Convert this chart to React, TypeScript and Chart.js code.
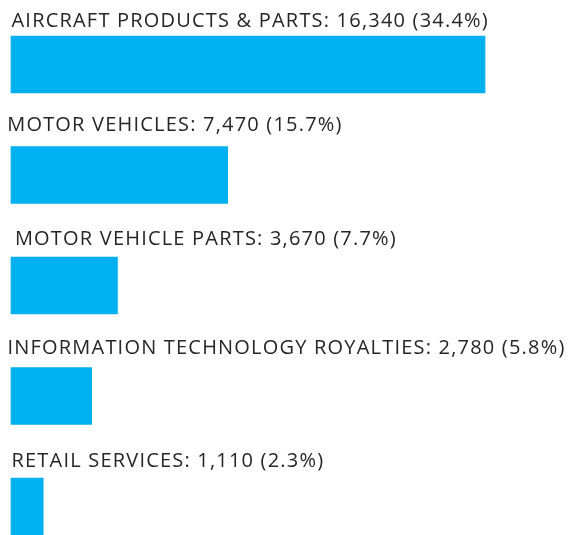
import React, { useEffect, useRef } from "react";
import { Chart, registerables } from "chart.js";

Chart.register(...registerables);

const categories = [
  "AIRCRAFT PRODUCTS & PARTS",
  "MOTOR VEHICLES",
  "MOTOR VEHICLE PARTS",
  "INFORMATION TECHNOLOGY ROYALTIES",
  "RETAIL SERVICES",
];
const values = [16340, 7470, 3670, 2780, 1110];
const shares = ["34.4%", "15.7%", "7.7%", "5.8%", "2.3%"];

// styling: per-label horizontal indent and gap above bar (px)
const labelIndent = [0.5, -3.8, 3.9, -3.5, 0.5];
const labelGap = [8.7, 15.3, 12.3, 14, 11.3];

const fmt = (v: number) => v.toLocaleString("en-US");

const labelPlugin = {
  id: "barLabels",
  afterDatasetsDraw(chart: any) {
    const ctx = chart.ctx;
    const meta = chart.getDatasetMeta(0);
    ctx.save();
    ctx.font = '20px "Open Sans"';
    (ctx as any).letterSpacing = "1.2px";
    ctx.fillStyle = "#262626";
    ctx.textAlign = "left";
    ctx.textBaseline = "alphabetic";
    meta.data.forEach((bar: any, i: number) => {
      const top = bar.y - bar.height / 2;
      const text = `${categories[i]}: ${fmt(values[i])} (${shares[i]})`;
      ctx.fillText(text, bar.base + labelIndent[i], top - labelGap[i]);
    });
    ctx.restore();
  },
};

export default function App() {
  const ref = useRef<HTMLCanvasElement>(null);
  useEffect(() => {
    if (!ref.current) return;
    const chart = new Chart(ref.current, {
      type: "bar",
      data: {
        labels: categories,
        datasets: [
          {
            data: values,
            backgroundColor: "#00B0F0",
            borderWidth: 0,
            barThickness: 57,
            clip: false as any,
          },
        ],
      },
      options: {
        indexAxis: "y",
        animation: false,
        responsive: false,
        maintainAspectRatio: false,
        layout: { padding: { left: 11, right: 84, top: 64.5, bottom: 28.5 } },
        plugins: { legend: { display: false }, tooltip: { enabled: false } },
        scales: {
          x: { display: false, min: 0, max: 16340 },
          y: { display: false, offset: false },
        },
      },
      plugins: [labelPlugin],
    });
    return () => chart.destroy();
  }, []);
  return (
    <div style={{ position: "absolute", left: 0, top: 0, width: 569, height: 535 }}>
      <canvas ref={ref} width={569} height={535} style={{ width: 569, height: 535, display: "block" }} />
    </div>
  );
}
